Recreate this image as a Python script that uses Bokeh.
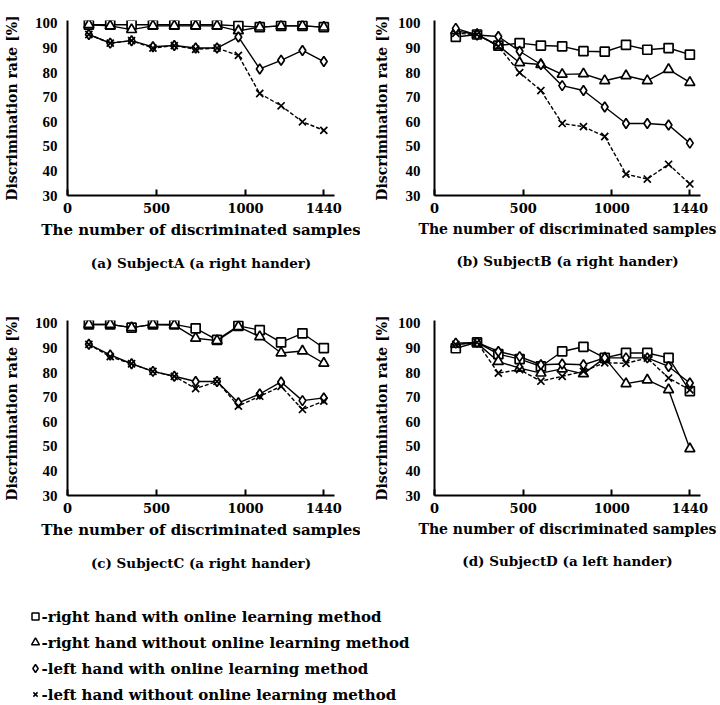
from bokeh.plotting import figure
from bokeh.layouts import column, row
from bokeh.models import Range1d, FixedTicker, Title
from bokeh.embed import file_html
from bokeh.resources import INLINE
from bokeh.core.properties import value

# ---------------- data ----------------
samples = [120, 240, 360, 480, 600, 720, 840, 960, 1080, 1200, 1320, 1440]
x_ticks = [0, 500, 1000, 1440]
y_ticks = [30, 40, 50, 60, 70, 80, 90, 100]

series_labels = [
    "right hand with online learning method",
    "right hand without online learning method",
    "left hand with online learning method",
    "left hand without online learning method",
]
series_markers = ["square", "triangle", "diamond", "x"]

# Subject A
a_right_online = [99.5, 99.5, 99.5, 99.5, 99.5, 99.5, 99.5, 99, 98.5, 99, 99, 98.5]
a_right_offline = [99.5, 99, 97.5, 99, 99, 99, 99, 97, 98.5, 99, 99, 98.5]
a_left_online = [95.5, 92, 93, 90.5, 91, 90, 90, 94.5, 81.5, 85, 89, 84.5]
a_left_offline = [95.5, 92, 93, 90, 91, 89.5, 90, 87, 71.5, 66.5, 60, 56.5]

# Subject B
b_right_online = [94.5, 95.5, 91, 92, 91, 90.7, 88.7, 88.5, 91.3, 89.3, 90, 87.3]
b_right_offline = [97, 95.5, 91, 84, 83.3, 79.3, 79.5, 76.7, 78.7, 76.7, 81.3, 76]
b_left_online = [98, 95.3, 94.7, 88.7, 83.3, 74.7, 72.7, 66, 59.3, 59.3, 58.7, 51.3]
b_left_offline = [96, 95.5, 90.7, 80, 72.7, 59.3, 58, 54, 38.7, 36.7, 42.7, 34.7]

# Subject C
c_right_online = [99.6, 99.6, 98.3, 99.6, 99.6, 98, 93.3, 99, 97.3, 92.3, 96, 90]
c_right_offline = [99.6, 99.6, 98.3, 99.6, 99.3, 94, 93, 98.7, 94.6, 88, 88.8, 83.8]
c_left_online = [91.5, 87.2, 83.6, 80.5, 78.5, 76.4, 76.4, 67.7, 71.3, 76.2, 68.6, 69.7]
c_left_offline = [91.5, 86.5, 83.6, 80.5, 78.5, 73.5, 76.4, 66.4, 70.4, 74.4, 65, 68.4]

# Subject D
d_right_online = [89.9, 92.3, 87.5, 85.5, 82.5, 88.6, 90.5, 86, 88, 88, 86, 72.5]
d_right_offline = [91.5, 92, 84.5, 81.8, 79.8, 81.5, 79.5, 86, 75.5, 77, 73, 49]
d_left_online = [92, 92.3, 88.6, 86.5, 83.2, 83.5, 83.2, 86, 86, 86, 82.5, 75.8]
d_left_offline = [91.5, 92.3, 79.8, 81.2, 76.5, 78.5, 80.5, 84, 83.8, 85.9, 77.8, 73]

captions = [
    "(a) SubjectA (a right hander)",
    "(b) SubjectB (a right hander)",
    "(c) SubjectC (a right hander)",
    "(d) SubjectD (a left hander)",
]
x_title = "The number of discriminated samples"
y_title = "Discrimination rate [%]"

# ---------------- style ----------------
SERIF = "DejaVu Serif"
TICKFONT = "Liberation Serif"
marker_sizes = [9, 10, 10, 10]
line_dashes = ["solid", "solid", "solid", "4 2"]


def panel(caption, series, left_col, cap_offset):
    p = figure(width=360, height=300,
               x_range=Range1d(0, 1500), y_range=Range1d(30, 101.2),
               output_backend="svg", toolbar_location=None,
               min_border_left=67 if left_col else 74,
               min_border_right=26 if left_col else 20,
               min_border_top=20, min_border_bottom=105)
    p.outline_line_color = None
    p.xgrid.visible = False
    p.ygrid.visible = False

    for vals, mk, ms, dash in zip(series, series_markers, marker_sizes, line_dashes):
        p.line(samples, vals, line_color="black", line_width=1.4, line_dash=dash)
        p.scatter(samples, vals, marker=mk, size=ms, fill_color="white",
                  line_color="black", line_width=1.7)

    xa = p.xaxis[0]
    xa.ticker = FixedTicker(ticks=x_ticks)
    xa.axis_line_width = 2
    xa.axis_line_color = "black"
    xa.major_tick_in = 6
    xa.major_tick_out = 0
    xa.major_tick_line_width = 2
    xa.minor_tick_line_color = None
    xa.major_label_standoff = 7
    xa.major_label_text_font = SERIF
    xa.major_label_text_font_style = "bold"
    xa.major_label_text_font_size = "13px"
    xa.major_label_text_color = "black"
    xa.axis_label = x_title
    xa.axis_label_standoff = 5
    xa.axis_label_text_font = SERIF
    xa.axis_label_text_font_style = "bold"
    xa.axis_label_text_font_size = "15px" if left_col else "14px"
    xa.axis_label_text_color = "black"

    ya = p.yaxis[0]
    ya.ticker = FixedTicker(ticks=y_ticks)
    ya.axis_line_width = 2
    ya.axis_line_color = "black"
    ya.major_tick_line_color = None
    ya.minor_tick_line_color = None
    ya.major_label_standoff = 4 if left_col else 8
    ya.major_label_text_font = TICKFONT
    ya.major_label_text_font_style = "bold"
    ya.major_label_text_font_size = "15px"
    ya.major_label_text_color = "black"
    ya.axis_label = y_title
    ya.axis_label_standoff = 12 if left_col else 5
    ya.axis_label_text_font = SERIF
    ya.axis_label_text_font_style = "bold"
    ya.axis_label_text_font_size = "14px"
    ya.axis_label_text_color = "black"

    p.add_layout(Title(text=caption, align="center", text_font=SERIF,
                       text_font_style="bold", text_font_size="13.5px",
                       text_color="black", standoff=22, offset=cap_offset), "below")
    return p


pa = panel(captions[0], [a_right_online, a_right_offline, a_left_online, a_left_offline], True, -15)
pb = panel(captions[1], [b_right_online, b_right_offline, b_left_online, b_left_offline], False, 0)
pc = panel(captions[2], [c_right_online, c_right_offline, c_left_online, c_left_offline], True, 0)
pd = panel(captions[3], [d_right_online, d_right_offline, d_left_online, d_left_offline], False, -5)

# ---------------- legend ----------------
leg = figure(width=720, height=105, x_range=Range1d(0, 720), y_range=Range1d(105, 0),
             output_backend="svg", toolbar_location=None, min_border=0)
leg.axis.visible = False
leg.xgrid.visible = False
leg.ygrid.visible = False
leg.outline_line_color = None

leg_top, leg_step = 16, 26
leg_y = [leg_top + i * leg_step for i in range(len(series_labels))]
leg_marker_sizes = [7, 8, 8, 6]
for i, (mk, ms) in enumerate(zip(series_markers, leg_marker_sizes)):
    leg.scatter([35], [leg_y[i]], marker=mk, size=ms, fill_color="white",
                line_color="black", line_width=1.5)
leg.text(x=[41] * len(series_labels), y=leg_y, text=["-" + s for s in series_labels],
         text_font=value(SERIF), text_font_style="bold", text_font_size="15px",
         text_baseline="middle", text_align="left", text_color="black")

layout = column(row(pa, pb), row(pc, pd), leg)

open("out.html", "w").write(file_html(layout, INLINE))
